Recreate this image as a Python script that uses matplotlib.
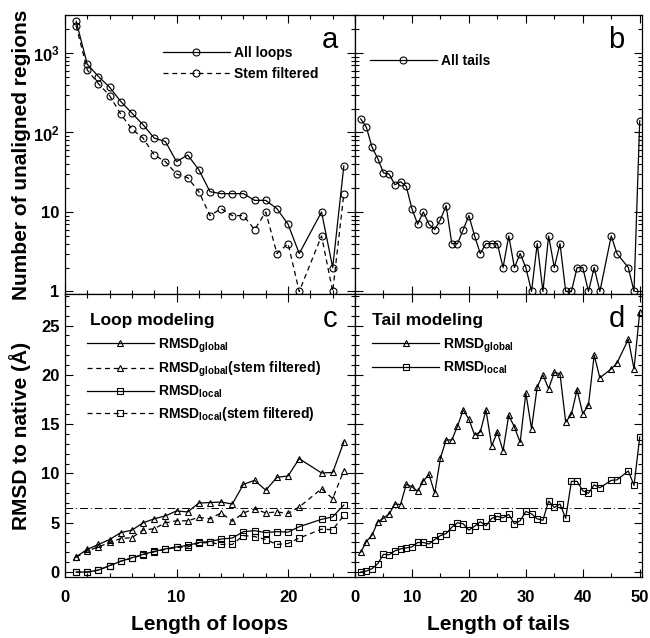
import matplotlib
matplotlib.use("Agg")
import matplotlib.pyplot as plt
from matplotlib.ticker import MultipleLocator, FixedLocator, FixedFormatter, LogLocator, NullFormatter

plt.rcParams["font.family"] = ["Liberation Sans", "DejaVu Sans"]
plt.rcParams["font.weight"] = "bold"
plt.rcParams["mathtext.fontset"] = "custom"
plt.rcParams["mathtext.rm"] = "Liberation Sans:bold"
plt.rcParams["mathtext.bf"] = "Liberation Sans:bold"
plt.rcParams["mathtext.it"] = "Liberation Sans:bold"

# --- data ---
loop_len = [1, 2, 3, 4, 5, 6, 7, 8, 9, 10, 11, 12, 13, 14, 15, 16, 17, 18, 19, 20, 21, 23, 24, 25]
all_loops = [2500, 720, 505, 370, 245, 175, 125, 85, 77, 43, 52, 34, 18, 17, 17, 17, 14, 14, 11, 7, 3, 10, 2, 38]
stem_loops = [2200, 610, 410, 290, 170, 110, 85, 52, 43, 30, 27, 18, 9, 11, 9, 9, 6, 10, 3, 4, 1, 5, 1, 17]

tail_len = list(range(1, 44)) + [45, 46, 48, 49, 50]
all_tails = [148, 116, 65, 47, 31, 30, 22, 24, 21, 11, 7, 10, 7, 6, 8, 12, 4, 4, 6, 9,
             5, 3, 4, 4, 4, 2, 5, 2, 3, 2, 1, 4, 1, 5, 2, 4, 1, 1, 2, 2,
             1, 2, 1, 5, 3, 2, 1, 140]

loop_global = [1.55, 2.3, 2.8, 3.3, 4.0, 4.25, 5.0, 5.4, 5.7, 6.2, 6.1, 7.0, 7.05, 7.1, 6.9,
               8.9, 9.3, 8.3, 9.6, 9.75, 11.5, 10.05, 10.1, 13.2]
loop_global_sf = [1.5, 2.15, 2.55, 3.0, 3.4, 3.5, 4.25, 4.4, 5.0, 5.2, 5.2, 5.55, 5.4, 6.0, 5.15,
                  6.0, 6.4, 6.0, 6.1, 5.95, 6.6, 8.45, 7.45, 10.3]
loop_local = [0.0, 0.0, 0.2, 0.65, 1.1, 1.45, 1.8, 2.1, 2.35, 2.55, 2.7, 3.0, 3.1, 3.35, 3.45,
              4.1, 4.2, 4.0, 4.1, 4.05, 4.6, 5.35, 5.6, 6.8]
loop_local_sf = [0.0, 0.0, 0.2, 0.65, 1.1, 1.4, 1.75, 2.05, 2.3, 2.5, 2.55, 2.95, 3.0, 2.8, 2.8,
                 3.7, 3.6, 3.3, 2.8, 2.9, 3.45, 4.35, 4.3, 5.75]

tail_global = [2.0, 3.1, 3.75, 5.1, 5.45, 5.9, 6.9, 6.85, 8.9, 8.65, 8.2, 9.25, 9.9, 8.0, 11.55,
               13.4, 13.4, 14.8, 16.45, 15.5, 13.9, 14.2, 16.45, 12.8, 14.2, 12.3, 15.9, 14.7,
               13.15, 18.15, 14.55, 18.8, 20.0, 18.6, 20.25, 20.1, 15.2, 16.0, 18.5, 16.05,
               16.95, 22.0, 19.7, 20.6, 21.2, 23.6, 20.6, 26.4]
tail_local = [0.0, 0.1, 0.35, 0.85, 1.8, 1.75, 2.15, 2.35, 2.45, 2.55, 3.0, 3.0, 2.85, 3.3, 3.7,
              3.9, 4.55, 5.0, 4.9, 4.25, 4.65, 5.1, 4.7, 5.45, 5.65, 5.5, 5.85, 4.9, 5.2, 6.15,
              5.9, 5.4, 5.25, 7.2, 6.55, 6.9, 5.45, 9.2, 9.2, 8.25, 8.0, 8.85, 8.55, 9.3, 9.35,
              10.25, 8.8, 13.7]

rmsd_cut = 6.5

# --- layout ---
fig = plt.figure(figsize=(6.5, 6.38), dpi=100)
W, H = 650, 638
x0, xm, x1 = 65, 355, 642
y0, ym, y1 = 15, 294, 577


def box(l, r, t, b):
    return [l / W, 1 - b / H, (r - l) / W, (b - t) / H]


ax_a = fig.add_axes(box(x0, xm, y0, ym))
ax_b = fig.add_axes(box(xm, x1, y0, ym))
ax_c = fig.add_axes(box(x0, xm, ym, y1))
ax_d = fig.add_axes(box(xm, x1, ym, y1))

lw = 0.9
dash = (4, 3)
mk = dict(markerfacecolor="none", markeredgecolor="black", markeredgewidth=0.8)

# panel a
ax_a.plot(loop_len, all_loops, "-", color="black", lw=lw, marker="o", ms=5, label="All loops", **mk)
ax_a.plot(loop_len, stem_loops, "--", dashes=dash, color="black", lw=lw, marker="o", ms=5,
          label="Stem filtered", **mk)

# panel b
ax_b.plot(tail_len, all_tails, "-", color="black", lw=lw, marker="o", ms=5, label="All tails", **mk)

# panel c
ax_c.plot(loop_len, loop_global, "-", color="black", lw=lw, marker="^", ms=5,
          label=r"RMSD$_{\mathbf{global}}$", **mk)
ax_c.plot(loop_len, loop_global_sf, "--", dashes=dash, color="black", lw=lw, marker="^", ms=5,
          label=r"RMSD$_{\mathbf{global}}$(stem filtered)", **mk)
ax_c.plot(loop_len, loop_local, "-", color="black", lw=lw, marker="s", ms=5,
          label=r"RMSD$_{\mathbf{local}}$", **mk)
ax_c.plot(loop_len, loop_local_sf, "--", dashes=dash, color="black", lw=lw, marker="s", ms=5,
          label=r"RMSD$_{\mathbf{local}}$(stem filtered)", **mk)

# panel d
ax_d.plot(tail_len, tail_global, "-", color="black", lw=lw, marker="^", ms=5,
          label=r"RMSD$_{\mathbf{global}}$", **mk)
ax_d.plot(tail_len, tail_local, "-", color="black", lw=lw, marker="s", ms=5,
          label=r"RMSD$_{\mathbf{local}}$", **mk)

for ax in (ax_c, ax_d):
    ax.axhline(rmsd_cut, color="black", lw=0.7, dashes=(8, 3, 1, 3))

# axes ranges and ticks
for ax in (ax_a, ax_b):
    ax.set_yscale("log")
    ax.set_ylim(0.93, 3000)
    ax.yaxis.set_major_locator(FixedLocator([1, 10, 100, 1000]))
    ax.yaxis.set_minor_locator(LogLocator(base=10, subs=range(2, 10)))
    ax.yaxis.set_minor_formatter(NullFormatter())
ax_a.yaxis.set_major_formatter(FixedFormatter(["1", "10", r"$10^2$", r"$10^3$"]))
ax_b.set_yticklabels([])

for ax in (ax_c, ax_d):
    ax.set_ylim(-0.5, 28.2)
    ax.yaxis.set_major_locator(MultipleLocator(5))
    ax.yaxis.set_minor_locator(MultipleLocator(1))
ax_d.set_yticklabels([])

for ax in (ax_a, ax_c):
    ax.set_xlim(0, 26)
    ax.xaxis.set_major_locator(MultipleLocator(10))
    ax.xaxis.set_minor_locator(MultipleLocator(2))
for ax in (ax_b, ax_d):
    ax.set_xlim(0, 50.4)
    ax.xaxis.set_major_locator(MultipleLocator(10))
    ax.xaxis.set_minor_locator(MultipleLocator(5))
ax_a.set_xticklabels([])
ax_b.set_xticklabels([])

for ax in (ax_a, ax_b, ax_c, ax_d):
    ax.tick_params(which="both", direction="in", top=True, right=True, labelsize=12, width=0.8)
    ax.tick_params(which="major", length=6, pad=4)
    ax.tick_params(which="minor", length=3)
    ax.tick_params(axis="x", which="major", pad=9)
    for s in ax.spines.values():
        s.set_linewidth(0.9)

ax_a.set_ylabel("Number of unaligned regions", fontsize=15, fontweight="bold")
ax_c.set_ylabel("RMSD to native (Å)", fontsize=15, fontweight="bold")
for ax in (ax_a, ax_c):
    ax.yaxis.set_label_coords(-0.118, 0.5)
ax_c.set_xlabel("Length of loops", fontsize=15, fontweight="bold")
ax_d.set_xlabel("Length of tails", fontsize=15, fontweight="bold")
for ax in (ax_c, ax_d):
    ax.xaxis.set_label_coords(0.5, -0.135)

# panel letters
for ax, letter in ((ax_a, "a"), (ax_b, "b"), (ax_c, "c"), (ax_d, "d")):
    ax.text(0.94, 0.91, letter, transform=ax.transAxes, fontsize=21, fontweight="normal",
            ha="right", va="center")
ax_c.text(0.086, 0.905, "Loop modeling", transform=ax_c.transAxes, fontsize=12.5, va="center")
ax_d.text(0.06, 0.905, "Tail modeling", transform=ax_d.transAxes, fontsize=12.5, va="center")

leg_kw = dict(frameon=False, loc="upper left", handlelength=4.8, handletextpad=0.3,
              borderpad=0, borderaxespad=0, prop={"size": 10, "weight": "bold"})
ax_a.legend(bbox_to_anchor=(0.338, 0.89), labelspacing=0.55, **leg_kw)
ax_b.legend(bbox_to_anchor=(0.052, 0.86), **leg_kw)
ax_c.legend(bbox_to_anchor=(0.076, 0.85), labelspacing=0.35, **leg_kw)
ax_d.legend(bbox_to_anchor=(0.06, 0.85), labelspacing=0.35, **leg_kw)

fig.savefig("out.png", dpi=100)
